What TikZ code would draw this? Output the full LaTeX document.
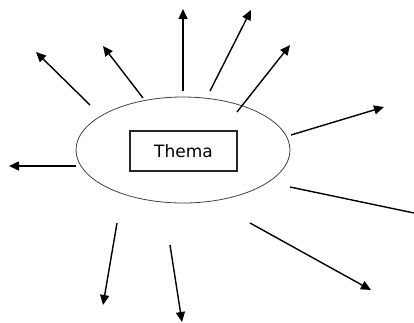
\documentclass[tikz,border=0pt]{standalone}
\usepackage{fontspec}
\setmainfont{DejaVu Sans}
\usetikzlibrary{arrows.meta,shapes.geometric}
\begin{document}
\begin{tikzpicture}[x=1pt,y=-1pt,
  ray/.style={line width=1.4pt,-{Triangle[length=10pt,width=9pt]}},
  rayline/.style={line width=1.4pt},
  blobstyle/.style={draw=black!75,line width=0.8pt,ellipse,minimum width=214pt,minimum height=106pt,inner sep=0pt},
  boxstyle/.style={draw=black!85,line width=1.1pt,rectangle,minimum width=107pt,minimum height=40pt,inner sep=0pt,font=\fontsize{17}{20}\selectfont}]
\useasboundingbox (0,0) rectangle (414,322);
\node[blobstyle] (blob) at (183,150) {};
\node[boxstyle] (thema) at (183.5,151) {Thema};
% start and end points of the rays
\coordinate (s1) at (90,105);   \coordinate (e1) at (36,52);
\coordinate (s2) at (143,98);   \coordinate (e2) at (103,46);
\coordinate (s3) at (183,91);   \coordinate (e3) at (183,9);
\coordinate (s4) at (210,91);   \coordinate (e4) at (251,10);
\coordinate (s5) at (237,112);  \coordinate (e5) at (290,45);
\coordinate (s6) at (291,135);  \coordinate (e6) at (384,107);
\coordinate (s7) at (76,166);   \coordinate (e7) at (9,166);
\coordinate (s8) at (290,187);  \coordinate (e8) at (414,213);
\coordinate (s9) at (250,223);  \coordinate (e9) at (371,290);
\coordinate (s10) at (117,223); \coordinate (e10) at (103,305);
\coordinate (s11) at (170,245); \coordinate (e11) at (182,322);
\foreach \i in {1,2,3,4,5,6,7,9,10,11} \draw[ray] (s\i) -- (e\i);
\draw[rayline] (s8) -- (e8);
\end{tikzpicture}
\end{document}
